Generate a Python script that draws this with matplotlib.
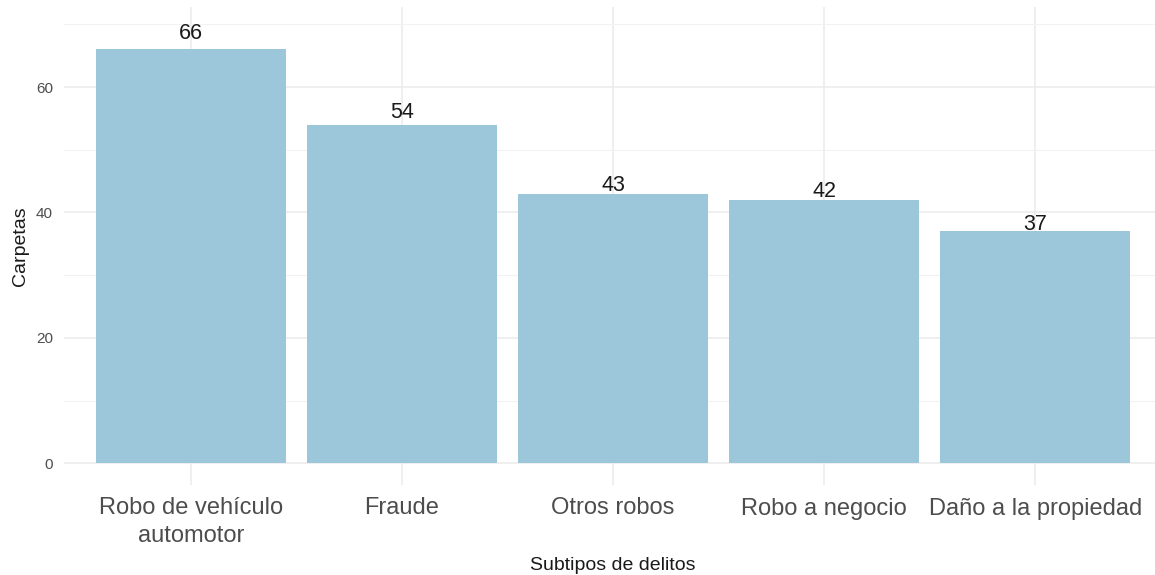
import matplotlib
matplotlib.use("Agg")
import matplotlib.pyplot as plt
from matplotlib.ticker import MultipleLocator

categories = ["Robo de vehículo\nautomotor", "Fraude", "Otros robos", "Robo a negocio", "Daño a la propiedad"]
values = [66, 54, 43, 42, 37]
yticks = [0, 20, 40, 60]

plt.rcParams['font.family'] = ['Liberation Sans', 'DejaVu Sans']

W, H = 1155, 575
fig = plt.figure(figsize=(W/100, H/100), dpi=100)
ax = fig.add_axes([64/W, (H-485)/H, (1162-64)/W, (485-7)/H])

x = list(range(1, len(categories)+1))
ax.bar(x, values, width=0.9, color="#9CC6DA", zorder=2)
for xi, v in zip(x, values):
    ax.text(xi, v*1.05 - 1.7, str(v), ha="center", va="baseline", fontsize=15.5, color="#1a1a1a", zorder=3)

dmax = max(values)*1.05
ax.set_ylim(-0.05*dmax, dmax*1.05)
ax.set_xlim(0.4, len(categories)+0.6)
ax.set_yticks(yticks)
ax.yaxis.set_minor_locator(MultipleLocator(10))
ax.set_xticks(x)
ax.set_xticklabels(categories, fontsize=17, color="#4D4D4D", linespacing=1.3)
ax.tick_params(axis="y", labelsize=11, labelcolor="#4D4D4D", length=0, pad=8)
ax.tick_params(axis="x", length=0, pad=9)
ax.tick_params(which="minor", length=0)
ax.grid(True, which="major", color="#EBEBEB", linewidth=1.1, zorder=0)
ax.grid(True, which="minor", axis="y", color="#F2F2F2", linewidth=0.8, zorder=0)
for s in ax.spines.values():
    s.set_visible(False)
ax.set_ylabel("Carpetas", fontsize=14, color="#1a1a1a", labelpad=5)
ax.set_xlabel("Subtipos de delitos", fontsize=14, color="#1a1a1a", labelpad=7.5)

fig.savefig("out.png", dpi=100)
